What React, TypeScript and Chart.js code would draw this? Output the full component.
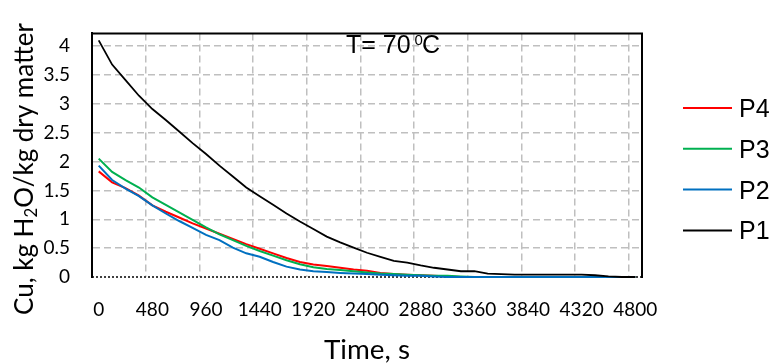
import React, { useEffect, useRef } from 'react';
import { Chart, registerables } from 'chart.js';

Chart.register(...registerables);

// ---- data ----
const timeLabels = [
  '0', '120', '240', '360', '480', '600', '720', '840', '960', '1080',
  '1200', '1320', '1440', '1560', '1680', '1800', '1920', '2040', '2160', '2280',
  '2400', '2520', '2640', '2760', '2880', '3000', '3120', '3240', '3360', '3480',
  '3600', '3720', '3840', '3960', '4080', '4200', '4320', '4440', '4560', '4680', '4800',
];
const shownTimeTicks = ['0', '480', '960', '1440', '1920', '2400', '2880', '3360', '3840', '4320', '4800'];
const yTicks = [0, 0.5, 1, 1.5, 2, 2.5, 3, 3.5, 4];

const seriesNames = ['P4', 'P3', 'P2', 'P1'];
const seriesColors = ['#FF0000', '#00B050', '#0070C0', '#000000'];

const p4 = [
  1.83, 1.64, 1.54, 1.41, 1.24, 1.13, 1.03, 0.93, 0.84, 0.75,
  0.66, 0.57, 0.49, 0.41, 0.33, 0.26, 0.215, 0.19, 0.16, 0.13,
  0.11, 0.07, 0.05, 0.04, 0.03, 0.02, 0.01, 0, 0, 0,
  0, 0, 0, 0, 0, 0, 0, 0, 0, 0, 0,
];
const p3 = [
  2.05, 1.82, 1.68, 1.55, 1.38, 1.25, 1.12, 0.99, 0.86, 0.74,
  0.64, 0.54, 0.45, 0.37, 0.29, 0.22, 0.17, 0.14, 0.12, 0.10,
  0.08, 0.06, 0.05, 0.04, 0.03, 0.02, 0.02, 0.01, 0, 0,
  0, 0, 0, 0, 0, 0, 0, 0, 0, 0, 0,
];
const p2 = [
  1.93, 1.68, 1.53, 1.40, 1.24, 1.10, 0.97, 0.85, 0.73, 0.64,
  0.51, 0.41, 0.35, 0.26, 0.18, 0.13, 0.10, 0.085, 0.07, 0.06,
  0.05, 0.04, 0.03, 0.02, 0.02, 0.01, 0, 0, 0, 0,
  0, 0, 0, 0, 0, 0, 0, 0, 0, 0, 0,
];
const p1 = [
  4.10, 3.68, 3.41, 3.14, 2.91, 2.72, 2.52, 2.32, 2.13, 1.93,
  1.74, 1.55, 1.40, 1.25, 1.10, 0.96, 0.83, 0.70, 0.60, 0.51,
  0.42, 0.35, 0.28, 0.25, 0.20, 0.16, 0.13, 0.10, 0.10, 0.06,
  0.05, 0.04, 0.04, 0.04, 0.04, 0.04, 0.04, 0.03, 0.01, 0, 0,
];
const seriesValues = [p4, p3, p2, p1];

const yTitleA = 'Cu, kg H';
const yTitleSub = '2';
const yTitleB = 'O/kg dry matter';
const xTitle = 'Time, s';
const annoMain = 'T= 70 ';
const annoSup = '0';
const annoEnd = 'C';

const TICK_FONT = 'Lato, "Open Sans", sans-serif';
const ARIAL = '"Liberation Sans", Arial, sans-serif';

const overlayPlugin = {
  id: 'overlay',
  beforeDatasetsDraw(chart: any) {
    const { ctx, chartArea: a } = chart;
    ctx.save();
    ctx.strokeStyle = '#404040';
    ctx.lineWidth = 2;
    ctx.setLineDash([2, 2]);
    ctx.beginPath();
    ctx.moveTo(a.left, a.bottom);
    ctx.lineTo(a.right, a.bottom);
    ctx.stroke();
    ctx.restore();
  },
  afterDatasetsDraw(chart: any) {
    const { ctx, chartArea: a } = chart;
    ctx.save();
    ctx.strokeStyle = '#000';
    ctx.lineWidth = 2;
    ctx.beginPath();
    ctx.moveTo(a.left, a.bottom + 1);
    ctx.lineTo(a.left, a.top);
    ctx.lineTo(a.right, a.top);
    ctx.lineTo(a.right, a.bottom + 1);
    ctx.stroke();
    ctx.restore();
  },
  afterDraw(chart: any) {
    const { ctx, chartArea: a } = chart;
    ctx.save();
    ctx.fillStyle = '#000';
    ctx.textBaseline = 'alphabetic';
    ctx.textAlign = 'left';

    // Y title (rotated, with subscript)
    ctx.font = `100px ${TICK_FONT}`;
    const wa = ctx.measureText(yTitleA).width;
    const wb = ctx.measureText(yTitleB).width;
    ctx.font = `65px ${TICK_FONT}`;
    const ws = ctx.measureText(yTitleSub).width;
    const s = (292 * 100) / (wa + wb + ws);
    ctx.save();
    ctx.translate(33, 315);
    ctx.rotate(-Math.PI / 2);
    ctx.font = `${s}px ${TICK_FONT}`;
    ctx.fillText(yTitleA, 0, 0);
    let off = ctx.measureText(yTitleA).width;
    ctx.font = `${s * 0.65}px ${TICK_FONT}`;
    ctx.fillText(yTitleSub, off, s * 0.16);
    off += ctx.measureText(yTitleSub).width;
    ctx.font = `${s}px ${TICK_FONT}`;
    ctx.fillText(yTitleB, off, 0);
    ctx.restore();

    // X title
    ctx.font = `100px ${TICK_FONT}`;
    const wx = ctx.measureText(xTitle).width;
    const sx = (86 * 100) / wx;
    ctx.font = `${sx}px ${TICK_FONT}`;
    ctx.textAlign = 'center';
    ctx.fillText(xTitle, (a.left + a.right) / 2, 359);

    // annotation
    ctx.textAlign = 'left';
    ctx.font = `25px ${ARIAL}`;
    let ax = 346;
    const ay = 52.5;
    ctx.fillText(annoMain, ax, ay);
    ax += ctx.measureText(annoMain).width - 3;
    ctx.font = `15px ${ARIAL}`;
    ctx.fillText(annoSup, ax, ay - 8);
    ax += ctx.measureText(annoSup).width - 1;
    ctx.font = `25px ${ARIAL}`;
    ctx.fillText(annoEnd, ax, ay);

    // legend
    const ds = chart.data.datasets;
    ds.forEach((d: any, i: number) => {
      const y = 108 + i * 40.8;
      ctx.strokeStyle = d.borderColor;
      ctx.lineWidth = 2;
      ctx.beginPath();
      ctx.moveTo(683, y);
      ctx.lineTo(732, y);
      ctx.stroke();
      ctx.font = `25px ${ARIAL}`;
      ctx.fillStyle = '#000';
      ctx.fillText(d.label, 739, y + 9);
    });
    ctx.restore();
  },
};

export default function App() {
  const ref = useRef<HTMLCanvasElement>(null);

  useEffect(() => {
    if (!ref.current) return;
    const chart = new Chart(ref.current, {
      type: 'line',
      data: {
        labels: timeLabels,
        datasets: seriesNames.map((name, i) => ({
          label: name,
          data: seriesValues[i],
          borderColor: seriesColors[i],
          backgroundColor: seriesColors[i],
          borderWidth: name === 'P1' ? 1.8 : 2,
          pointRadius: 0,
          tension: 0,
          fill: false,
          clip: false as any,
          order: 4 - i,
        })),
      },
      options: {
        responsive: false,
        animation: false,
        devicePixelRatio: 1,
        layout: { padding: { left: 0, top: 13, right: 129, bottom: 0 } },
        plugins: {
          legend: { display: false },
          tooltip: { enabled: false },
          title: { display: false },
        },
        scales: {
          x: {
            type: 'category',
            offset: true,
            grid: {
              offset: true,
              drawTicks: false,
              lineWidth: 1.5,
              color: (c: any) =>
                c.index > 0 && c.index < timeLabels.length && shownTimeTicks.includes(timeLabels[c.index])
                  ? '#BFBFBF'
                  : 'rgba(0,0,0,0)',
              borderDash: [7, 4],
            } as any,
            border: { display: true, color: 'rgba(0,0,0,0)', width: 1, dash: [7, 4] },
            ticks: {
              autoSkip: false,
              maxRotation: 0,
              padding: 21,
              color: '#000',
              font: { family: TICK_FONT, size: 19 },
              callback: (_v: any, idx: number) =>
                shownTimeTicks.includes(timeLabels[idx]) ? timeLabels[idx] : '',
            },
            afterFit: (scale: any) => {
              scale.height = 86;
            },
          },
          y: {
            type: 'linear',
            min: 0,
            max: 4.22,
            afterBuildTicks: (scale: any) => {
              scale.ticks = yTicks.map((v) => ({ value: v }));
            },
            grid: {
              drawTicks: false,
              lineWidth: 1.5,
              color: (c: any) => (c.tick && c.tick.value !== 0 ? '#BFBFBF' : 'rgba(0,0,0,0)'),
              borderDash: [7, 4],
            } as any,
            border: { display: true, color: '#000', width: 2, dash: [7, 4] },
            ticks: {
              padding: 22,
              color: '#000',
              font: { family: TICK_FONT, size: 19 },
              callback: (v: any) => String(v),
            },
            afterFit: (scale: any) => {
              scale.width = 92;
            },
          },
        },
      },
      plugins: [overlayPlugin],
    });
    return () => chart.destroy();
  }, []);

  return (
    <div style={{ position: 'fixed', left: 0, top: 0, width: 771, height: 363, background: '#fff' }}>
      <canvas ref={ref} width={771} height={363} style={{ display: 'block' }} />
    </div>
  );
}
